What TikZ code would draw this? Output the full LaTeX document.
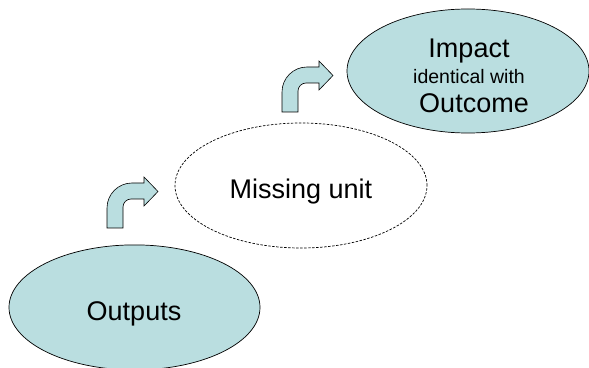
\documentclass[tikz,border=0pt]{standalone}
\usepackage{fontspec}
\setmainfont{Liberation Sans}
\usetikzlibrary{shapes.geometric}
\definecolor{lightteal}{RGB}{186,222,224}
\tikzset{
  blob/.style={ellipse, draw=black, line width=0.7pt, fill=lightteal, inner sep=0pt},
  dashblob/.style={ellipse, draw=black, line width=0.7pt, dash pattern=on 2.5pt off 1.5pt, inner sep=0pt},
  bigtxt/.style={anchor=base, inner sep=0pt, font=\fontsize{27}{32}\selectfont},
  smalltxt/.style={anchor=base, inner sep=0pt, font=\fontsize{19.5}{23}\selectfont},
  arrowfill/.style={draw=black, line width=0.6pt, fill=lightteal, line join=miter},
  bentarrow/.pic={
    \draw[arrowfill] (0,0) -- (0,20) arc[start angle=180,end angle=90,radius=25]
      -- (37,45) -- (37,51) -- (51,36.5) -- (37,22) -- (37,29) -- (24,29)
      arc[start angle=90,end angle=180,radius=8] -- (16,0) -- cycle;
  }
}
\begin{document}
\begin{tikzpicture}[x=1pt,y=1pt]
\useasboundingbox (0,0) rectangle (589,367);
\node[blob, minimum width=251pt, minimum height=125pt] (outputs) at (134.5,59.6) {};
\node[dashblob, minimum width=252pt, minimum height=125pt] (missing) at (301,181.5) {};
\node[blob, minimum width=242pt, minimum height=124pt] (impact) at (468,296) {};
\node[bigtxt] (toutputs) at (134,47) {Outputs};
\node[bigtxt] (tmissing) at (301,168.7) {Missing unit};
\node[bigtxt] (timpact) at (469,309) {Impact};
\node[smalltxt] (tident) at (469,283) {identical with};
\node[bigtxt] (toutcome) at (474,254) {Outcome};
\pic (arrowA) at (107,139) {bentarrow};
\pic (arrowB) at (282,255) {bentarrow};
\end{tikzpicture}
\end{document}
